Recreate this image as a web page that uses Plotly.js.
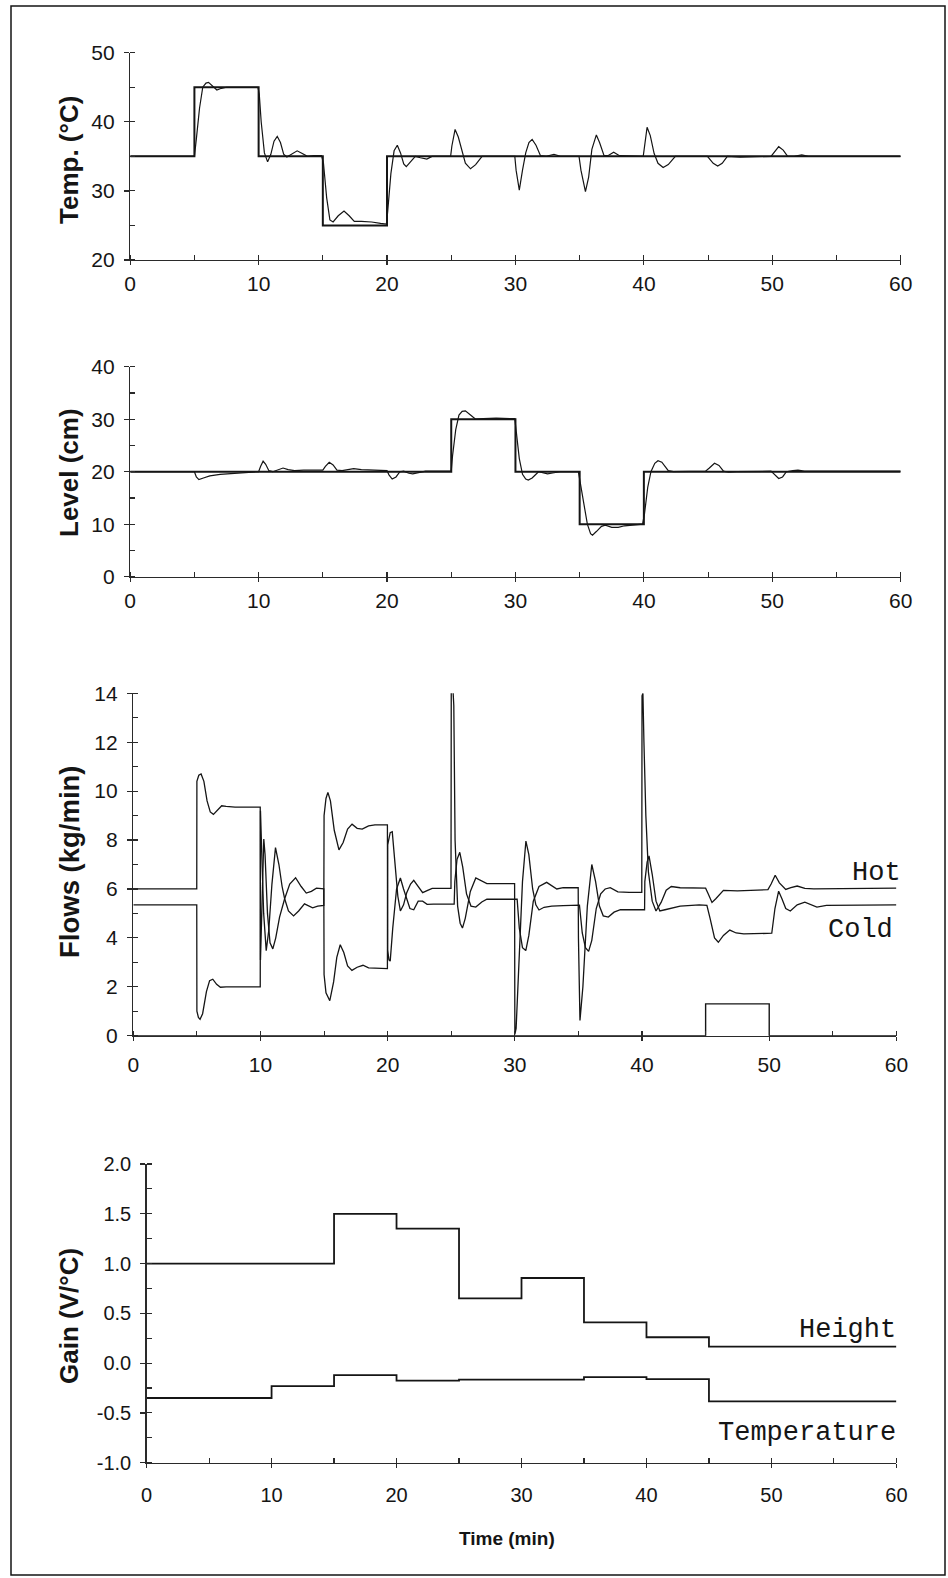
<!DOCTYPE html>
<html>
<head>
<meta charset="utf-8">
<script src="https://cdn.plot.ly/plotly-3.0.1.min.js"></script>
<style>html,body{margin:0;padding:0;background:#fff;}#chart{width:948px;height:1578px;}</style>
</head>
<body>
<div id="chart"></div>
<script>
// ---------- Panel 1: temperature ----------
const tempSpTime = [0, 5, 10, 15, 20, 60];
const tempSp = [35, 45, 35, 25, 35, 35];
const tempTime = [0,5.0,5.15,5.4,5.65,5.9,6.1,6.4,6.75,7.1,7.5,9.95,
  10.05,10.2,10.45,10.7,10.95,11.2,11.45,11.7,11.95,12.2,12.6,13.0,13.4,13.8,14.3,14.9,
  15.05,15.3,15.55,15.8,16.2,16.65,17.05,17.45,18.0,18.8,19.5,19.95,
  20.05,20.3,20.55,20.8,21.05,21.3,21.5,21.8,22.2,22.6,23.1,23.5,24.95,
  25.05,25.3,25.55,25.85,26.1,26.5,26.9,27.4,29.95,
  30.05,30.3,30.55,30.8,31.05,31.3,31.6,31.95,32.4,33.0,33.5,34.95,
  35.1,35.45,35.7,35.95,36.3,36.55,36.9,37.2,37.65,38.1,39.95,
  40.05,40.25,40.5,40.8,41.1,41.5,41.9,42.45,44.95,
  45.1,45.4,45.75,46.1,46.5,47.5,49.9,
  50.1,50.5,50.85,51.2,51.7,52.3,52.8,60];
const tempResp = [35,35,37.5,42,45,45.6,45.7,45.2,44.6,44.85,45.0,45.0,
  44,40,35.5,34.2,35.3,37.2,37.9,37.0,35.3,34.9,35.4,35.8,35.4,35.0,35.1,35.1,
  34,29,25.8,25.5,26.4,27.1,26.4,25.6,25.6,25.5,25.3,25.2,
  27,32.5,35.8,36.6,35.5,33.9,33.5,34.2,35.0,34.8,34.6,35.0,35.0,
  36.5,38.9,37.8,35.5,34.0,33.2,33.8,35.0,35.0,
  33,30.1,33,35.5,37.0,37.45,36.6,35.1,35.0,35.3,35.0,35.0,
  33,29.9,32,36,38.1,37.0,35.1,35.1,35.6,35.1,35.0,
  36.5,39.2,38.0,35.4,34.0,33.4,33.8,35.0,35.0,
  34.7,34.0,33.6,34.0,35.0,34.9,35.0,
  35.5,36.4,35.9,35.0,35.0,35.2,35.0,35.0];

// ---------- Panel 2: level ----------
const levelSpTime = [0, 25, 30, 35, 40, 60];
const levelSp = [20, 30, 20, 10, 20, 20];
const levelTime = [0,5.0,5.15,5.35,5.7,6.2,7.0,8.0,9.0,10.0,
  10.15,10.35,10.55,10.8,11.1,11.5,11.9,12.3,12.8,13.5,15.0,
  15.2,15.5,15.8,16.1,16.5,17.0,17.4,18.0,19.0,20.0,
  20.15,20.4,20.7,21.0,21.3,21.7,22.0,22.4,23.0,25.0,
  25.1,25.35,25.6,25.85,26.1,26.5,26.9,27.5,28.5,29.95,
  30.05,30.3,30.55,30.8,31.0,31.3,31.8,32.2,32.5,33.0,33.5,34.9,
  35.05,35.3,35.6,35.85,36.0,36.3,36.7,37.0,37.5,38.0,38.5,39.9,
  40.05,40.3,40.55,40.85,41.1,41.4,41.9,42.3,44.8,
  45.1,45.5,45.85,46.2,46.6,47.2,49.9,
  50.1,50.5,50.8,51.1,51.6,52.0,52.5,60];
const levelResp = [20,20,19.0,18.5,18.8,19.2,19.5,19.7,19.9,20.0,
  21.0,22.0,21.4,20.2,20.0,20.4,20.7,20.4,20.2,20.3,20.3,
  21.0,21.8,21.3,20.3,20.2,20.5,20.6,20.4,20.3,20.2,
  19.4,18.6,19.0,20.0,20.1,19.7,19.6,19.8,20.1,20.1,
  23,28,30.8,31.5,31.6,30.8,30.0,30.1,30.2,30.1,
  28,22.5,19.5,18.6,18.4,18.8,20.0,19.8,19.6,19.8,20.0,20.0,
  18,14,10,8.2,7.9,8.6,9.6,9.8,9.4,9.4,9.7,10.0,
  12,17,20,21.6,22.1,21.8,20.2,20.0,20.1,
  20.7,21.6,21.2,20.1,19.9,20.0,20.1,
  19.6,18.7,19.0,20.0,20.2,20.3,20.1,20.1];

// ---------- Panel 3: flows ----------
const hotTime = [0,4.99,5.0,5.15,5.33,5.55,5.8,6.05,6.3,6.6,6.95,7.3,8.0,9.98,
  10.0,10.08,10.17,10.26,10.36,10.55,10.75,10.97,11.2,11.5,11.9,12.3,12.76,13.2,13.6,14.0,14.4,14.98,
  15.0,15.15,15.45,15.75,16.0,16.27,16.55,16.85,17.19,17.6,18.06,18.5,19.98,
  20.0,20.2,20.36,20.55,20.8,21.0,21.25,21.5,21.8,22.05,22.4,22.75,23.1,23.5,24.98,
  25.0,25.12,25.2,25.3,25.5,25.7,25.88,26.1,26.5,26.93,27.4,27.8,29.98,
  30.0,30.1,30.35,30.6,30.87,31.1,31.4,31.65,31.9,32.3,32.9,33.4,33.8,35.08,
  35.3,35.55,35.8,36.05,36.4,36.75,37.1,37.5,38.1,39.0,39.98,
  40.0,40.07,40.15,40.3,40.5,40.8,41.1,41.5,41.9,42.3,43.0,45.0,
  45.2,45.5,45.8,46.4,47.5,48.5,49.9,50.15,50.47,50.8,51.3,51.7,52.2,52.8,53.5,60];
const hotFlow = [6.0,6.0,10.4,10.65,10.7,10.4,9.6,9.15,9.05,9.2,9.4,9.38,9.35,9.35,
  3.1,4.6,7.0,8.04,7.4,5.0,3.8,3.55,4.0,4.85,5.6,6.2,6.46,6.1,5.83,5.9,6.03,6.0,
  2.5,1.75,1.43,2.2,3.2,3.72,3.4,2.85,2.67,2.8,2.88,2.77,2.74,
  7.8,8.3,8.34,7.2,5.7,5.1,5.35,5.85,6.2,6.35,6.1,5.85,5.93,6.02,6.02,
  14.25,14.3,13.5,8.0,5.3,4.6,4.4,4.8,5.9,6.45,6.32,6.22,6.22,
  0.05,0.3,3.2,6.3,7.96,7.4,6.0,5.35,5.14,5.25,5.3,5.3,5.32,5.34,
  4.2,3.6,3.45,3.9,5.2,5.8,6.0,6.05,5.88,5.86,5.86,
  13.9,14.0,12.0,9.0,6.7,5.5,5.1,5.45,5.95,6.1,6.05,6.03,
  5.8,5.45,5.6,5.94,5.92,5.95,5.97,6.2,6.56,6.25,5.98,6.05,6.12,6.02,6.0,6.03];
const coldTime = [0,4.99,5.0,5.12,5.25,5.45,5.75,6.0,6.25,6.55,6.85,7.3,9.98,
  10.0,10.1,10.25,10.45,10.65,10.9,11.18,11.45,11.7,11.9,12.2,12.6,13.0,13.46,13.8,14.1,14.5,14.98,
  15.0,15.15,15.3,15.5,15.8,16.17,16.5,16.85,17.2,17.6,18.0,18.5,19.0,19.98,
  20.0,20.1,20.2,20.4,20.7,21.0,21.25,21.5,21.75,22.05,22.4,22.75,23.1,23.6,25.23,
  25.28,25.45,25.67,25.9,26.2,26.55,26.93,27.4,27.8,30.18,
  30.35,30.6,30.86,31.1,31.45,31.9,32.5,32.9,33.3,33.8,34.98,
  35.0,35.12,35.35,35.7,36.05,36.35,36.65,36.95,37.35,37.8,38.3,40.2,
  40.22,40.4,40.55,40.8,41.1,41.4,41.8,42.3,43.0,44.5,45.1,
  45.35,45.7,46.0,46.4,46.9,47.4,48.0,50.2,50.45,50.74,51.0,51.3,51.66,52.2,52.8,53.3,53.75,54.5,60];
const coldFlow = [5.35,5.35,1.0,0.75,0.67,0.9,1.8,2.25,2.31,2.1,1.98,2.0,2.0,
  9.2,7.5,5.0,3.48,4.3,6.2,7.69,7.0,6.1,5.6,5.1,4.9,5.1,5.39,5.3,5.23,5.3,5.33,
  9.0,9.7,9.95,9.6,8.4,7.6,7.9,8.45,8.65,8.48,8.45,8.58,8.62,8.62,
  3.5,3.1,3.05,4.4,6.0,6.45,6.0,5.6,5.2,5.15,5.5,5.5,5.37,5.38,5.38,
  6.3,7.2,7.5,6.9,5.8,5.3,5.26,5.47,5.58,5.58,
  4.4,3.6,3.48,4.1,5.5,6.1,6.27,6.15,6.0,6.05,6.05,
  4.0,0.62,2.0,5.3,7.0,6.3,5.3,4.9,4.85,5.05,5.15,5.15,
  6.3,7.1,7.35,6.6,5.5,5.1,5.15,5.2,5.3,5.35,5.33,
  4.8,4.0,3.82,4.1,4.32,4.2,4.16,4.19,5.2,5.91,5.6,5.2,5.1,5.35,5.46,5.35,5.26,5.33,5.35];
const disturbTime = [0, 45, 50, 60];
const disturbFlow = [0, 1.3, 0, 0];

// ---------- Panel 4: gains ----------
const heightGainTime = [0, 15, 20, 25, 30, 35, 40, 45, 60];
const heightGain = [1.0, 1.5, 1.35, 0.65, 0.855, 0.41, 0.26, 0.165, 0.165];
const tempGainTime = [0, 10, 15, 20, 25, 35, 40, 45, 60];
const tempGain = [-0.35, -0.23, -0.12, -0.175, -0.165, -0.14, -0.16, -0.385, -0.385];

const gainTickVals = [-1, -0.5, 0, 0.5, 1, 1.5, 2];
const gainTickText = ['-1.0', '-0.5', '0.0', '0.5', '1.0', '1.5', '2.0'];

// ---------- drawing ----------
const INK = '#151515';
const AX = '#2a2a2a';
const W = 948, H = 1578;
const TICKFONT = {family: 'Liberation Sans, Arial, sans-serif', size: 21, color: INK};

function line(x, y, xa, ya, width, shape) {
  return {x: x, y: y, xaxis: xa, yaxis: ya, type: 'scatter', mode: 'lines',
    line: {color: INK, width: width, shape: shape || 'linear'}, hoverinfo: 'skip'};
}

const traces = [
  line(tempSpTime, tempSp, 'x', 'y', 2.0, 'hv'),
  line(tempTime, tempResp, 'x', 'y', 1.2),
  line(levelSpTime, levelSp, 'x2', 'y2', 2.0, 'hv'),
  line(levelTime, levelResp, 'x2', 'y2', 1.2),
  line(hotTime, hotFlow, 'x3', 'y3', 1.3),
  line(coldTime, coldFlow, 'x3', 'y3', 1.3),
  line(disturbTime, disturbFlow, 'x3', 'y3', 1.4, 'hv'),
  line(heightGainTime, heightGain, 'x4', 'y4', 1.8, 'hv'),
  line(tempGainTime, tempGain, 'x4', 'y4', 1.8, 'hv')
];

function xAxis(d0, d1, anchor, fsize, standoff) {
  return {
    domain: [d0 / W, d1 / W], anchor: anchor, range: [0, 60],
    tickmode: 'linear', tick0: 0, dtick: 10,
    ticks: 'outside', ticklen: 4, tickwidth: 1.2, tickcolor: AX,
    minor: {tickmode: 'linear', tick0: 0, dtick: 5, ticks: 'inside', ticklen: 5, tickwidth: 1.1, tickcolor: AX, showgrid: false},
    showline: true, linecolor: AX, linewidth: 1.4,
    showgrid: false, zeroline: false,
    tickfont: Object.assign({}, TICKFONT, {size: fsize}),
    ticklabelstandoff: standoff, fixedrange: true
  };
}
function yAxis(top, bottom, anchor, range, dtick, minor, standoff, extra) {
  const a = {
    domain: [1 - bottom / H, 1 - top / H], anchor: anchor, range: range,
    tickmode: 'linear', tick0: range[0], dtick: dtick,
    ticks: 'outside', ticklen: 5, tickwidth: 1.2, tickcolor: AX,
    minor: {tickmode: 'linear', tick0: range[0], dtick: minor, ticks: 'inside', ticklen: 5, tickwidth: 1.1, tickcolor: AX, showgrid: false},
    showline: true, linecolor: AX, linewidth: 1.4,
    showgrid: false, zeroline: false,
    tickfont: TICKFONT, ticklabelstandoff: standoff, fixedrange: true
  };
  return Object.assign(a, extra || {});
}

const TITLEFONT = {family: 'Liberation Sans, Arial, sans-serif', size: 26, color: INK};
const MONO = {family: 'Liberation Mono, Courier New, monospace', size: 27, color: INK};

function yTitle(text, yc, size) {
  return {text: '<b>' + text + '</b>', xref: 'paper', yref: 'paper', x: 69 / W, y: 1 - yc / H,
    xanchor: 'center', yanchor: 'middle', textangle: -90, showarrow: false,
    font: Object.assign({}, TITLEFONT, {size: size || 26})};
}

const layout = {
  width: W, height: H,
  margin: {l: 0, r: 0, t: 0, b: 0, pad: 0},
  paper_bgcolor: '#ffffff', plot_bgcolor: 'rgba(0,0,0,0)',
  showlegend: false,
  xaxis: xAxis(130.2, 900.7, 'y', 21, 0),
  yaxis: yAxis(52.7, 260, 'x', [20, 50], 10, 5, 5),
  xaxis2: xAxis(130.2, 900.7, 'y2', 21, 1),
  yaxis2: yAxis(366.7, 576.7, 'x2', [0, 40], 10, 5, 5),
  xaxis3: xAxis(133.3, 896.4, 'y3', 21, 6),
  yaxis3: yAxis(693.3, 1035.7, 'x3', [0, 14], 2, 1, 5),
  xaxis4: xAxis(146.6, 896.4, 'y4', 20, 10),
  yaxis4: yAxis(1164, 1462.7, 'x4', [-1, 2], 0.5, 0.25, 5,
    {tickmode: 'array', tickvals: gainTickVals, ticktext: gainTickText, tickfont: Object.assign({}, TICKFONT, {size: 20})}),
  annotations: [
    yTitle('Temp. (°C)', 160),
    yTitle('Level (cm)', 473),
    yTitle('Flows (kg/min)', 862, 27.5),
    yTitle('Gain (V/°C)', 1316),
    {text: '<b>Time (min)</b>', xref: 'paper', yref: 'paper', x: 507 / W, y: 1 - 1538 / H,
      xanchor: 'center', yanchor: 'middle', showarrow: false,
      font: {family: 'Liberation Sans, Arial, sans-serif', size: 19, color: INK}},
    {text: 'Hot', xref: 'x3', yref: 'y3', x: 60, y: 6.66, xanchor: 'right', yanchor: 'middle', xshift: 7, showarrow: false, font: MONO},
    {text: 'Cold', xref: 'x3', yref: 'y3', x: 60, y: 4.32, xanchor: 'right', yanchor: 'middle', xshift: -1, showarrow: false, font: MONO},
    {text: 'Height', xref: 'x4', yref: 'y4', x: 60, y: 0.335, xanchor: 'right', yanchor: 'middle', xshift: 2, showarrow: false, font: MONO},
    {text: 'Temperature', xref: 'x4', yref: 'y4', x: 60, y: -0.70, xanchor: 'right', yanchor: 'middle', xshift: 2, showarrow: false, font: MONO}
  ],
  shapes: [
    {type: 'rect', xref: 'paper', yref: 'paper', x0: 11 / W, x1: 945 / W, y0: 1 - 1575 / H, y1: 1 - 6 / H,
      line: {color: INK, width: 1.5}, fillcolor: 'rgba(0,0,0,0)', layer: 'below'}
  ]
};

Plotly.newPlot('chart', traces, layout, {staticPlot: true, displayModeBar: false});
</script>
</body>
</html>
